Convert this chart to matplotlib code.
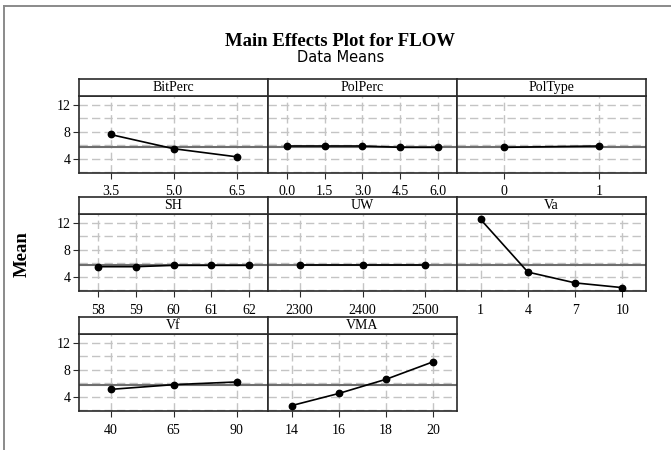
"""Main effects plot for FLOW (Minitab style), rebuilt with matplotlib."""
import matplotlib.pyplot as plt
from matplotlib.lines import Line2D

# factor names, levels and response means
factors = ["BitPerc", "PolPerc", "PolType", "SH", "UW", "Va", "Vf", "VMA"]
levels = {
    "BitPerc": ["3.5", "5.0", "6.5"],
    "PolPerc": ["0.0", "1.5", "3.0", "4.5", "6.0"],
    "PolType": ["0", "1"],
    "SH": ["58", "59", "60", "61", "62"],
    "UW": ["2300", "2400", "2500"],
    "Va": ["1", "4", "7", "10"],
    "Vf": ["40", "65", "90"],
    "VMA": ["14", "16", "18", "20"],
}
means = {
    "BitPerc": [7.6, 5.5, 4.3],
    "PolPerc": [5.9, 5.9, 5.9, 5.7, 5.7],
    "PolType": [5.7, 5.9],
    "SH": [5.5, 5.5, 5.7, 5.7, 5.7],
    "UW": [5.7, 5.7, 5.7],
    "Va": [12.5, 4.7, 3.1, 2.4],
    "Vf": [5.1, 5.8, 6.2],
    "VMA": [2.7, 4.5, 6.6, 9.2],
}
grand_mean = 5.8
y_ticks = [4, 8, 12]
y_grid = [2, 4, 6, 8, 10, 12]

serif = "Liberation Serif"
W, H = 671, 450
fig = plt.figure(figsize=(W / 100, H / 100), dpi=100)

# cropped screenshot border (top and left only)
fig.add_artist(Line2D([4 / W, 1], [1 - 6 / H, 1 - 6 / H], color="#8a8a8a", lw=1.4))
fig.add_artist(Line2D([4 / W, 4 / W], [0, 1 - 6 / H], color="#8a8a8a", lw=1.4))

fig.text(0.507, 1 - 41 / H, "Main Effects Plot for FLOW", ha="center", va="center",
         fontsize=13.5, fontweight="bold", family=serif)
fig.text(0.507, 1 - 58 / H, "Data Means", ha="center", va="center", fontsize=10.5,
         family="DejaVu Sans")
fig.text(22 / W, 1 - 254 / H, "Mean", rotation=90, ha="center", va="center",
         fontsize=13.5, fontweight="bold", family=serif)

col_x = [79, 268, 457]
col_w = 189
row_bottom = [173, 291, 411]
plot_h = 77
strip_h = 17
frame = "#2a2a2a"

for i, name in enumerate(factors):
    r, c = divmod(i, 3)
    x0 = col_x[c] / W
    w = col_w / W
    y0 = 1 - row_bottom[r] / H
    h = plot_h / H
    ax = fig.add_axes([x0, y0, w, h])
    sax = fig.add_axes([x0, y0 + h, w, strip_h / H])

    labs = levels[name]
    vals = means[name]
    pos = list(range(len(labs)))
    ax.set_xlim(-0.5, len(labs) - 0.5)
    ax.set_ylim(1.9, 13.3)
    for g in y_grid:
        ax.axhline(g, color="#c4c4c4", lw=1.0, ls=(0, (6, 3)), zorder=1)
    for p in pos:
        ax.axvline(p, color="#c4c4c4", lw=1.0, ls=(0, (6, 3)), zorder=1)
    ax.axhline(grand_mean, color="#6e6e6e", lw=1.5, zorder=2)
    ax.plot(pos, vals, color="black", lw=1.2, marker="o", ms=4.6, zorder=3)

    ax.set_xticks(pos)
    ax.set_xticklabels(labs, family=serif, fontsize=10)
    ax.set_yticks(y_ticks)
    if c == 0:
        ax.set_yticklabels([str(t) for t in y_ticks], family=serif, fontsize=10)
        ax.tick_params(axis="y", length=4, color=frame, pad=2)
    else:
        ax.tick_params(axis="y", length=0, labelleft=False)
    ax.tick_params(axis="x", length=4, color=frame, pad=5)
    for sp in ax.spines.values():
        sp.set_color(frame)
        sp.set_linewidth(1.2)

    sax.set_xticks([])
    sax.set_yticks([])
    for sp in sax.spines.values():
        sp.set_color(frame)
        sp.set_linewidth(1.2)
    sax.text(0.5, 0.5, name, ha="center", va="center", fontsize=10,
             family=serif, transform=sax.transAxes)

fig.savefig("out.png", dpi=100)
